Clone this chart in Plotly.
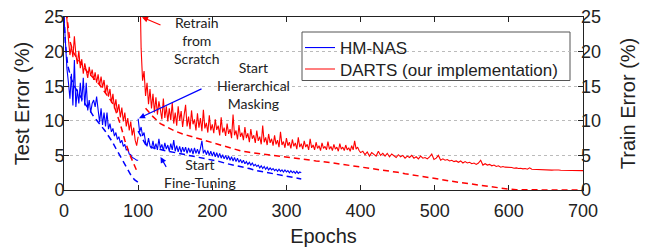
import plotly.graph_objects as go

# ---------------- data ----------------
# search phase, epochs 0..100
search_ep = list(range(0, 101, 2))
darts_search_test = [30, 27, 23.5, 21.8, 19.5, 20.8, 19.2, 22.2, 19.6, 18.2, 20.1, 17.6, 18.9, 16.8,
                     18.3, 17.1, 16.2, 17.8, 16.5, 17.4, 15.9, 17.0, 15.5, 16.7, 15.1, 16.4, 14.8,
                     15.9, 14.0, 15.2, 13.5, 14.6, 12.6, 13.9, 11.8, 13.1, 11.2, 12.4, 10.5, 11.9,
                     9.9, 11.2, 9.2, 10.4, 8.6, 9.9, 7.9, 9.0, 7.2, 6.4, 7.7]
hm_search_test = [25, 21, 17.5, 15.5, 13.2, 16.8, 12.2, 18.8, 12, 14.5, 12.5, 15.5, 12.8, 16.2, 12.2,
                  15.5, 11.5, 13, 11.2, 12.5, 13.0, 12, 13.5, 11.6, 9.8, 11.8, 9.4, 11.2, 9.2, 11.2,
                  8.8, 9.6, 8.4, 8.9, 7.8, 8.3, 7.3, 7.7, 6.8, 7.2, 6.3, 6.6, 5.8, 5.9, 5.2, 5.1,
                  4.7, 4.6, 4.4, 4.3, 4.3]

darts_search_train_ep = [0, 4, 8, 12, 16, 20, 24, 28, 32, 36, 40, 44, 48, 52, 56, 60, 64, 68, 72, 76,
                         82, 88, 94, 98]
darts_search_train = [30, 25, 21.5, 20, 19.3, 18.7, 18.1, 17.5, 17, 16.6, 16.2, 15.7, 15.2, 14.6, 14,
                      13.4, 12.8, 12.0, 10.8, 9.5, 7.2, 5.3, 3.8, 2.8]

hm_search_train_ep = [0, 2, 5, 10, 15, 20, 25, 30, 35, 40, 45, 50, 55, 60, 65, 70, 75, 80, 85, 90, 95, 100]
hm_search_train = [25, 21, 18, 16, 14.8, 13.8, 13, 12.2, 11.5, 10.6, 10, 9.3, 8.6, 7.8, 7, 6, 5,
                   4.1, 3.1, 2.2, 1.5, 1.1]

# HM-NAS fine-tuning, epochs 100..320
ft_ep = list(range(100, 321, 2))
hm_ft_test = [10.3, 8.4, 9.1, 7.8, 8.3, 6.9, 6.3, 7.5, 6.4, 6.0, 7.1, 5.9, 6.7, 5.8, 7.4, 6.0, 6.6, 5.7,
              6.8, 5.9, 6.5, 5.6, 6.7, 5.8, 7.2, 5.6, 6.4, 5.5, 6.3, 5.4, 6.2, 5.5, 6.2, 5.3, 6.1, 5.4,
              6.0, 5.2, 6.1, 5.3, 5.9, 5.2, 6.0, 7.1, 5.3, 5.8, 5.1, 5.7, 5.0, 5.6, 4.9, 5.5, 4.8, 5.4,
              4.7, 5.3, 4.6, 5.1, 4.5, 5.0, 4.4, 4.9, 4.3, 4.8, 4.2, 4.7, 4.1, 4.6, 4.0, 4.4, 3.9, 4.3,
              3.8, 4.1, 3.7, 4.0, 3.6, 3.9, 3.5, 3.7, 3.4, 3.6, 3.2, 3.5, 3.1, 3.4, 3.0, 3.3, 2.9, 3.2,
              2.9, 3.1, 2.8, 3.0, 2.7, 3.0, 2.7, 2.9, 2.6, 2.9, 2.6, 2.8, 2.5, 2.8, 2.5, 2.7, 2.4, 2.7,
              2.4, 2.6, 2.5]
ft_train_ep = list(range(100, 321, 10))
hm_ft_train = [8.5, 6.6, 6.1, 5.8, 5.6, 5.4, 5.2, 5.0, 4.8, 4.6, 4.4, 4.1, 3.8, 3.6, 3.4, 3.1, 2.8,
               2.6, 2.4, 2.2, 2.0, 1.8, 1.6]

# DARTS retrain from scratch, epochs 102..700
rt_ep = list(range(102, 401, 2)) + list(range(403, 701, 3))
darts_rt_test = [32, 20.5, 15.8, 17.2, 13.6, 15.5, 12.4, 14.6, 11.8, 13.9,
                 11.2, 13.4, 10.9, 12.8, 11.6, 10.2, 13.2, 10.4, 12.1, 9.9,
                 11.8, 10.1, 12.6, 9.6, 11.2, 9.3, 12.1, 10.0, 11.4, 9.1,
                 10.8, 12.3, 9.2, 10.6, 8.8, 11.5, 9.5, 10.2, 8.6, 11.1,
                 9.0, 10.4, 8.5, 11.6, 8.9, 9.7, 8.3, 10.8, 8.6, 9.5,
                 8.2, 10.2, 8.7, 9.3, 7.9, 10.5, 8.3, 9.0, 7.8, 9.6,
                 8.1, 8.8, 7.5, 10.9, 7.9, 8.6, 7.3, 9.4, 7.7, 8.3,
                 7.2, 9.1, 7.5, 8.2, 6.9, 8.8, 7.4, 7.9, 6.8, 8.6,
                 7.1, 7.7, 6.6, 9.3, 6.9, 7.6, 6.5, 8.1, 6.8, 7.4,
                 6.4, 7.9, 6.6, 7.2, 6.2, 8.4, 6.5, 7.0, 6.1, 7.5,
                 6.4, 6.9, 6.0, 7.3, 6.3, 6.8, 5.9, 7.6, 6.2, 6.7,
                 5.9, 7.1, 6.2, 6.6, 5.8, 7.4, 6.1, 6.5, 5.8, 6.9,
                 6.0, 6.4, 5.7, 6.8, 6.0, 6.3, 5.8, 7.0, 5.9, 6.3,
                 5.7, 6.6, 5.9, 6.2, 5.6, 6.7, 5.9, 6.2, 5.7, 6.5,
                 5.8, 6.1, 5.6, 6.4, 5.8, 7.1, 5.9, 6.2, 5.7, 5.4,
                 5.6, 5.1, 5.5, 4.9, 5.4, 5.2, 4.9, 5.6, 5.0, 5.3,
                 4.9, 5.3, 4.8, 5.2, 5.0, 4.7, 5.1, 4.8, 5.0, 4.6,
                 4.9, 4.7, 5.0, 4.6, 4.8, 4.5, 4.9, 4.6, 4.7, 4.5,
                 4.8, 5.2, 4.4, 4.6, 5.0, 4.3, 4.5, 4.3, 4.4, 4.2,
                 4.3, 4.1, 4.2, 4.0, 4.2, 3.9, 4.1, 3.9, 4.0, 3.8,
                 3.9, 3.7, 3.9, 4.3, 3.6, 3.8, 3.6, 3.7, 3.5, 3.6,
                 3.4, 3.5, 3.3, 3.4, 3.3, 3.3, 3.2, 3.25, 3.15, 3.2,
                 3.1, 3.15, 3.05, 3.1, 3.0, 3.2, 3.0, 2.98, 2.95, 3.0,
                 2.92, 2.9, 2.95, 2.88, 2.9, 2.87, 2.9, 2.85, 2.88, 2.86,
                 2.85, 2.84, 2.86, 2.83, 2.84, 2.82, 2.83, 2.81, 2.8, 2.8]
rt_train_ep = list(range(110, 701, 10))
darts_rt_train = [11.8, 10.6, 9.6, 9.0, 8.5, 8.1, 7.8, 7.5, 7.2, 6.9, 6.6, 6.3, 5.9, 5.6, 5.45, 5.3,
                  5.2, 5.05, 4.9, 4.8, 4.65, 4.5, 4.35, 4.2, 4.1, 3.95, 3.85, 3.6, 3.45, 3.3, 3.15,
                  3.0, 2.9, 2.7, 2.55, 2.35, 2.2, 2.0, 1.85, 1.7, 1.5, 1.3, 1.15, 0.98, 0.8, 0.62,
                  0.48, 0.35, 0.22, 0.12, 0.05, 0.02, 0.0, 0.0, 0.0, 0.0, 0.0, 0.0, 0.0, 0.0]

x_ticks = [0, 100, 200, 300, 400, 500, 600, 700]
y_ticks = [0, 5, 10, 15, 20, 25]

BLUE = "#0000ff"
RED = "#ff0000"
DASH = "6px,4px"

fig = go.Figure()
fig.add_trace(go.Scatter(x=search_ep, y=hm_search_test, mode="lines", name="HM-NAS",
                         line=dict(color=BLUE, width=1.1), showlegend=True, legend="legend"))
fig.add_trace(go.Scatter(x=search_ep, y=darts_search_test, mode="lines",
                         name="DARTS (our implementation)",
                         line=dict(color=RED, width=1.1), showlegend=True, legend="legend2"))
fig.add_trace(go.Scatter(x=darts_search_train_ep, y=darts_search_train, mode="lines",
                         line=dict(color=RED, width=1.5, dash=DASH), showlegend=False, yaxis="y2"))
fig.add_trace(go.Scatter(x=hm_search_train_ep, y=hm_search_train, mode="lines",
                         line=dict(color=BLUE, width=1.5, dash=DASH), showlegend=False, yaxis="y2"))
fig.add_trace(go.Scatter(x=rt_ep, y=darts_rt_test, mode="lines",
                         line=dict(color=RED, width=1.1), showlegend=False))
fig.add_trace(go.Scatter(x=rt_train_ep, y=darts_rt_train, mode="lines",
                         line=dict(color=RED, width=1.5, dash=DASH), showlegend=False, yaxis="y2"))
fig.add_trace(go.Scatter(x=ft_ep, y=hm_ft_test, mode="lines",
                         line=dict(color=BLUE, width=1.1), showlegend=False))
fig.add_trace(go.Scatter(x=ft_train_ep, y=hm_ft_train, mode="lines",
                         line=dict(color=BLUE, width=1.5, dash=DASH), showlegend=False, yaxis="y2"))

TICKFONT = dict(family="Liberation Sans, Arial, sans-serif", size=18, color="#222")
TITLEFONT = dict(family="Liberation Sans, Arial, sans-serif", size=20, color="#222")
ANNFONT = dict(family="Lato, sans-serif", size=14, color="#222")
LEGFONT = dict(family="Liberation Sans, Arial, sans-serif", size=17, color="#222")

L, R, T, B = 64, 65, 17, 59
PW, PH = 648 - L - R, 249 - T - B

def px_x(p):  # page pixel -> paper x
    return (p - L) / PW

def px_y(p):  # page pixel -> paper y
    return (249 - B - p) / PH

fig.update_layout(
    width=648, height=249,
    margin=dict(l=L, r=R, t=T, b=B),
    paper_bgcolor="white", plot_bgcolor="white",
    showlegend=True,
    legend=dict(x=px_x(300), y=px_y(30), xanchor="left", yanchor="top",
                bgcolor="rgba(0,0,0,0)", borderwidth=0, font=LEGFONT),
    legend2=dict(x=px_x(300), y=px_y(51.5), xanchor="left", yanchor="top",
                 bgcolor="rgba(0,0,0,0)", borderwidth=0, font=LEGFONT),
    xaxis=dict(range=[0, 700], tickvals=x_ticks, ticks="inside", ticklen=5, tickcolor="#222",
               showline=True, linecolor="#222", linewidth=1, mirror="ticks",
               showgrid=False, zeroline=False, tickfont=TICKFONT, automargin=False,
               ticklabelstandoff=4,
               title=dict(text="Epochs", font=TITLEFONT, standoff=9)),
    yaxis=dict(range=[0, 25], tickvals=y_ticks, ticks="inside", ticklen=5, tickcolor="#222",
               showline=True, linecolor="#222", linewidth=1, mirror=True,
               showgrid=True, gridcolor="#bbbbbb", griddash="dot", gridwidth=1,
               zeroline=False, tickfont=TICKFONT, automargin=False, ticklabelstandoff=-5,
               title=dict(text="Test Error (%)", font=TITLEFONT, standoff=9)),
    yaxis2=dict(range=[0, 25], tickvals=y_ticks, ticks="inside", ticklen=5, tickcolor="#222",
                overlaying="y", side="right", showline=False, showgrid=False, zeroline=False,
                tickfont=TICKFONT, automargin=False, ticklabelstandoff=-3,
                title=dict(text="Train Error (%)", font=TITLEFONT, standoff=20)),
)

# legend frame
fig.add_shape(type="rect", xref="paper", yref="paper",
              x0=px_x(302), x1=px_x(570), y0=px_y(80.5), y1=px_y(32),
              line=dict(color="#555", width=1), fillcolor="white", layer="between")

labels = [
    ("Retrain<br>from<br>Scratch", 179, 21.61),
    ("Start<br>Hierarchical<br>Masking", 255, 15.05),
    ("Start<br>Fine-Tuning", 183.4, 2.33),
]
for t, xx, yy in labels:
    fig.add_annotation(x=xx, y=yy, xref="x", yref="y", text=t, showarrow=False,
                       font=ANNFONT, xanchor="center", yanchor="middle", align="center")

arrows = [
    (105.2, 24.97, 20, 8.5, RED),
    (101.2, 10.38, 64, -30, BLUE),
    (130.2, 4.78, 6.5, 11.5, BLUE),
]
for xx, yy, ax, ay, c in arrows:
    fig.add_annotation(x=xx, y=yy, xref="x", yref="y", text="", showarrow=True,
                       ax=ax, ay=ay, arrowcolor=c, arrowhead=2, arrowsize=1,
                       arrowwidth=1.2, standoff=0, startstandoff=0)

fig.write_html("out.html", config={"displayModeBar": False},
               post_script="document.body.style.margin='0';")
